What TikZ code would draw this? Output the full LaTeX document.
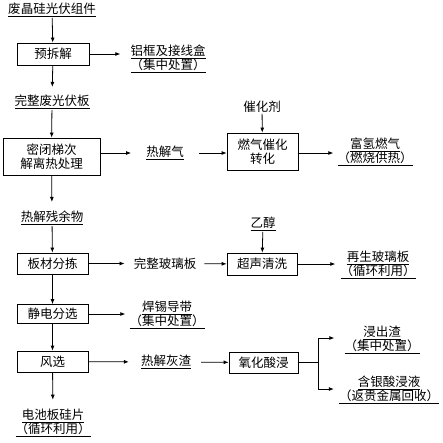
\documentclass[tikz,border=0pt]{standalone}
\usepackage{fontspec}
\setmainfont{Noto Sans CJK SC}
\usetikzlibrary{arrows.meta}
\newcommand{\ulx}[1]{\underline{#1}}
\begin{document}
\begin{tikzpicture}[x=1pt,y=-1pt,
  every node/.style={font=\fontsize{12.5pt}{14.5pt}\selectfont},
  box/.style={draw, line width=0.8pt, minimum height=21pt, inner sep=0pt, align=center},
  lab/.style={inner sep=1pt, align=center},
  arr/.style={-{Latex[length=5pt,width=4pt]}, line width=0.8pt},
  ln/.style={line width=0.8pt}]
\useasboundingbox (0,0) rectangle (443,442);

% left column
\node[lab] (t1) at (52,10) {\ulx{废晶硅光伏组件}};
\node[box, minimum width=72pt, minimum height=22pt] (b1) at (53,54) {预拆解};
\node[lab] (L1) at (168,59) {\ulx{铝框及接线盒}\\\ulx{（集中处置）}};
\node[lab] (t2) at (52,102) {\ulx{完整废光伏板}};
\node[box, minimum width=97pt, minimum height=37pt] (b2) at (51.5,156.5) {密闭梯次\\解离热处理};
\node[lab] (q) at (165,153) {\ulx{热解气}};
\node[box, minimum width=71pt, minimum height=37pt] (b3) at (262.5,151.5) {燃气催化\\转化};
\node[lab] (c1) at (262,107) {催化剂};
\node[lab] (L2) at (375,152) {\ulx{富氢燃气}\\\ulx{（燃烧供热）}};
\node[lab] (t3) at (52,218) {\ulx{热解残余物}};
\node[box, minimum width=71pt] (b4) at (52.5,263.5) {板材分拣};
\node[lab] (g) at (165,263.5) {完整玻璃板};
\node[box, minimum width=70pt, minimum height=22pt] (b5) at (262,264) {超声清洗};
\node[lab] (e) at (263,224) {\ulx{乙醇}};
\node[lab] (L3) at (378,265) {\ulx{再生玻璃板}\\\ulx{（循环利用）}};
\node[box, minimum width=71pt, minimum height=19pt] (b6) at (52.5,314) {静电分选};
\node[lab] (L4) at (167,315) {\ulx{焊锡导带}\\\ulx{（集中处置）}};
\node[box, minimum width=71pt] (b7) at (52.5,361.5) {风选};
\node[lab] (h) at (166,362) {\ulx{热解灰渣}};
\node[box, minimum width=69pt] (b8) at (263.5,362.5) {氧化酸浸};
\node[lab] (L5) at (382,340) {\ulx{浸出渣}\\\ulx{（集中处置）}};
\node[lab] (L6) at (389,390) {\ulx{含银酸浸液}\\\ulx{（返贵金属回收）}};
\node[lab] (L7) at (53,423) {\ulx{电池板硅片}\\\ulx{（循环利用）}};
\coordinate (bu) at (318,338);
\coordinate (bd) at (318,389);

% connectors
\draw[arr] (t1) -- (b1);
\draw[arr, shorten >=9pt] (b1.east) -- (b1.east -| L1.west);
\draw[arr, shorten >=7pt] (b1) -- (t2);
\draw[arr] (t2) -- (b2);
\draw[arr, shorten >=14pt] (b2.east |- q) -- (q.west);
\draw[arr, shorten <=14pt] (q.east) -- (q.east -| b3.west);
\draw[arr] (c1) -- (b3);
\draw[arr, shorten >=3pt] (b3.east |- q) -- (L2.west |- q);
\draw[arr, shorten >=8pt] (b2) -- (t3);
\draw[arr] (t3) -- (b4);
\draw[arr, shorten >=8pt] (b4) -- (g);
\draw[arr, shorten <=7pt] (g) -- (b5);
\draw[arr] (e) -- (b5);
\draw[arr, shorten >=4pt] (b5.east) -- (b5.east -| L3.west);
\draw[arr] (b4) -- (b6);
\draw[arr, shorten >=3pt] (b6.east) -- (b6.east -| L4.west);
\draw[arr] (b6) -- (b7);
\draw[arr, shorten >=11pt] (b7) -- (h);
\draw[arr, shorten <=9pt] (h) -- (b8);
\draw[ln] (b8.east) -- (b8.east -| bu);
\draw[ln] (bu) -- (bd);
\draw[arr, shorten >=9pt] (bu) -- (bu -| L5.west);
\draw[arr, shorten >=4pt] (bd) -- (bd -| L6.west);
\draw[arr, shorten >=8pt] (b7) -- (L7);
\end{tikzpicture}
\end{document}
